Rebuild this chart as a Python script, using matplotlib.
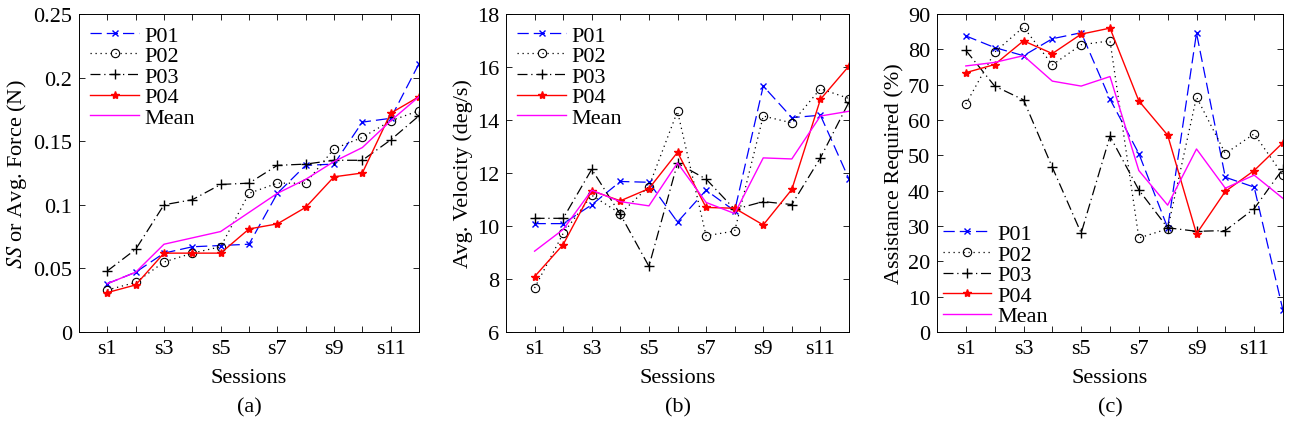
import numpy as np
import matplotlib
matplotlib.use('Agg')
import matplotlib.pyplot as plt

plt.rcParams['font.family'] = ['Liberation Serif', 'DejaVu Serif']
plt.rcParams['mathtext.fontset'] = 'stix'
plt.rcParams['font.size'] = 16

sessions = np.arange(1, 13)
tick_labels = ['s1', '', 's3', '', 's5', '', 's7', '', 's9', '', 's11', '']
names = ['P01', 'P02', 'P03', 'P04', 'Mean']

# (a) SS or avg force
force_p01 = [0.038, 0.047, 0.062, 0.067, 0.068, 0.069, 0.109, 0.131, 0.132, 0.165, 0.168, 0.211]
force_p02 = [0.033, 0.039, 0.055, 0.062, 0.067, 0.109, 0.117, 0.117, 0.144, 0.153, 0.166, 0.174]
force_p03 = [0.048, 0.065, 0.100, 0.104, 0.116, 0.117, 0.131, 0.132, 0.135, 0.135, 0.151, 0.170]
force_p04 = [0.031, 0.037, 0.062, 0.062, 0.062, 0.081, 0.085, 0.098, 0.122, 0.125, 0.172, 0.185]
force_mean = [0.038, 0.047, 0.069, 0.074, 0.079, 0.094, 0.109, 0.120, 0.134, 0.145, 0.166, 0.185]

# (b) avg velocity
vel_p01 = [10.09, 10.09, 10.8, 11.68, 11.65, 10.15, 11.35, 10.57, 15.28, 14.09, 14.18, 11.77]
vel_p02 = [7.66, 9.72, 11.16, 10.47, 11.49, 14.33, 9.63, 9.81, 14.15, 13.89, 15.18, 14.81]
vel_p03 = [10.29, 10.29, 12.14, 10.44, 8.48, 12.37, 11.77, 10.63, 10.92, 10.81, 12.57, 14.68]
vel_p04 = [8.09, 9.30, 11.33, 10.95, 11.41, 12.78, 10.70, 10.67, 10.04, 11.38, 14.78, 16.04]
vel_mean = [9.05, 9.87, 11.35, 10.92, 10.76, 12.38, 10.89, 10.47, 12.57, 12.53, 14.15, 14.33]

# (c) assistance required
ast_p01 = [83.8, 80.5, 78.2, 83.0, 84.7, 65.9, 50.5, 29.5, 84.6, 43.8, 41.0, 6.1]
ast_p02 = [64.5, 79.2, 86.3, 75.6, 81.3, 82.4, 26.6, 29.2, 66.5, 50.5, 56.1, 44.4]
ast_p03 = [79.7, 69.6, 65.7, 46.6, 28.0, 55.4, 40.2, 29.5, 28.5, 28.7, 34.9, 46.2]
ast_p04 = [73.4, 75.7, 82.4, 78.8, 84.3, 86.0, 65.4, 55.7, 27.8, 39.8, 45.7, 53.6]
ast_mean = [75.3, 76.3, 78.2, 71.0, 69.6, 72.3, 45.7, 35.9, 51.8, 40.7, 44.4, 37.8]

styles = [
    dict(color='b', ls=(0, (9, 4)), marker='x', ms=5, mew=1, lw=0.9),
    dict(color='k', ls=(0, (1, 3)), marker='o', ms=6, mfc='none', mew=0.8, lw=0.9),
    dict(color='k', ls=(0, (8, 3, 1, 3)), marker='+', ms=7, mew=1, lw=0.9),
    dict(color='r', ls='-', marker='*', ms=6, mew=1, lw=1.0),
    dict(color='magenta', ls='-', lw=1.0),
]

fig = plt.figure(figsize=(12.89, 4.31), dpi=100)
W, H = 1289, 431
boxes = [(79, 419), (506, 849), (937, 1283)]
top, bot = 15, 333

panels = [
    ([force_p01, force_p02, force_p03, force_p04, force_mean], (0, 0.25), np.arange(0, 0.26, 0.05),
     ['0', '0.05', '0.1', '0.15', '0.2', '0.25'], r'$\mathit{SS}$ or Avg. Force (N)', 'upper left', '(a)'),
    ([vel_p01, vel_p02, vel_p03, vel_p04, vel_mean], (6, 18), np.arange(6, 19, 2),
     None, 'Avg. Velocity (deg/s)', 'upper left', '(b)'),
    ([ast_p01, ast_p02, ast_p03, ast_p04, ast_mean], (0, 90), np.arange(0, 91, 10),
     None, 'Assistance Required (%)', 'lower left', '(c)'),
]

for (l, r), (series, ylim, yt, ytl, ylab, loc, cap) in zip(boxes, panels):
    ax = fig.add_axes([l / W, (H - bot) / H, (r - l) / W, (bot - top) / H])
    for vals, name, st in zip(series, names, styles):
        ax.plot(sessions, vals, label=name, **st)
    ax.set_xlim(0, 12)
    ax.set_ylim(*ylim)
    ax.set_xticks(sessions)
    ax.set_xticklabels(tick_labels)
    ax.set_yticks(yt)
    if ytl:
        ax.set_yticklabels(ytl)
    ax.tick_params(direction='in', top=True, right=True, length=4, width=0.6, labelsize=16, pad=5)
    for sp in ax.spines.values():
        sp.set_linewidth(0.7)
    ax.set_xlabel('Sessions', fontsize=16, labelpad=7)
    ax.set_ylabel(ylab, fontsize=16, labelpad=3)
    pad = 0.05 if loc == 'lower left' else 0.3
    ax.legend(loc=loc, frameon=False, fontsize=16, handlelength=2.2, handletextpad=0.25,
              labelspacing=0.0, borderaxespad=pad, borderpad=0.2)
    fig.text((l + r) / 2 / W, 1 - 408 / H, cap, ha='center', va='center', fontsize=16)

fig.savefig('out.png', dpi=100)
